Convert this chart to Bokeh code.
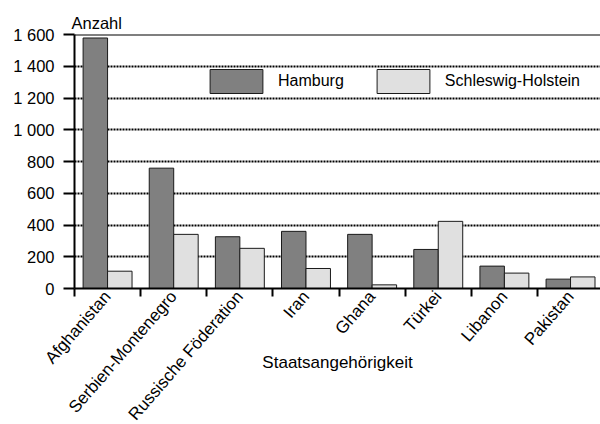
from bokeh.plotting import figure
from bokeh.models import (Range1d, FixedTicker, Span, Legend, LegendItem,
                          ColumnDataSource)
from bokeh.embed import file_html
from bokeh.resources import INLINE
from math import pi

categories = ["Afghanistan", "Serbien-Montenegro", "Russische Föderation", "Iran",
              "Ghana", "Türkei", "Libanon", "Pakistan"]
hamburg = [1578, 758, 326, 360, 341, 246, 141, 59]
schleswig_holstein = [109, 341, 253, 126, 23, 423, 97, 73]
y_ticks = [0, 200, 400, 600, 800, 1000, 1200, 1400, 1600]
y_tick_labels = ["0", "200", "400", "600", "800", "1 000", "1 200", "1 400", "1 600"]

FONT = "Liberation Sans"
FS = "16px"
FSY = "16.5px"
FSX = "17px"

centers = [i + 0.5 for i in range(len(categories))]
bw = 0.37
src_h = ColumnDataSource(dict(x=[c - 0.185 for c in centers], top=hamburg))
src_s = ColumnDataSource(dict(x=[c + 0.185 for c in centers], top=schleswig_holstein))

p = figure(width=600, height=424, output_backend="svg", toolbar_location=None,
           x_range=Range1d(0, 7.953), y_range=Range1d(0, 1600),
           min_border_left=74, min_border_right=0, min_border_top=34,
           min_border_bottom=136)
p.outline_line_color = None
p.background_fill_color = "white"

# title "Anzahl" above the y axis
p.title.text = "Anzahl"
p.title.align = "left"
p.title.offset = -3
p.title.text_font = FONT
p.title.text_font_size = FSY
p.title.text_font_style = "normal"
p.title.text_color = "black"
p.title.standoff = 5

r_h = p.vbar(x="x", top="top", width=bw, bottom=0, source=src_h,
             fill_color="#808080", line_color="#1a1a1a", line_width=1)
r_s = p.vbar(x="x", top="top", width=bw, bottom=0, source=src_s,
             fill_color="#e0e0e0", line_color="#1a1a1a", line_width=1)

# grid
p.xgrid.visible = False
p.ygrid.grid_line_color = "black"
p.ygrid.grid_line_dash = "2 1"
p.ygrid.grid_line_width = 2

# y axis
p.yaxis.ticker = FixedTicker(ticks=y_ticks)
p.yaxis.major_label_overrides = {t: l for t, l in zip(y_ticks, y_tick_labels)}
p.yaxis.axis_line_width = 2
p.yaxis.major_tick_line_width = 2
p.yaxis.major_tick_out = 11
p.yaxis.major_tick_in = 0
p.yaxis.minor_tick_line_color = None
p.yaxis.major_label_standoff = 9
p.yaxis.major_label_text_font = FONT
p.yaxis.major_label_text_font_size = FSY
p.yaxis.major_label_text_color = "black"
p.yaxis.axis_line_color = "black"
p.yaxis.major_tick_line_color = "black"

# x axis
p.xaxis.ticker = FixedTicker(ticks=centers, minor_ticks=list(range(len(categories) + 1)))
p.xaxis.major_label_overrides = {c: n for c, n in zip(centers, categories)}
p.xaxis.major_label_orientation = 49 * pi / 180
p.xaxis.axis_line_width = 2
p.xaxis.axis_line_color = "black"
p.xaxis.major_tick_out = 0
p.xaxis.major_tick_in = 0
p.xaxis.major_tick_line_color = None
p.xaxis.minor_tick_out = 8
p.xaxis.minor_tick_in = 0
p.xaxis.minor_tick_line_width = 2
p.xaxis.minor_tick_line_color = "black"
p.xaxis.major_label_standoff = -3
p.xaxis.major_label_text_font = FONT
p.xaxis.major_label_text_font_size = FSX
p.xaxis.major_label_text_color = "black"
p.xaxis.axis_label = "Staatsangehörigkeit"
p.xaxis.axis_label_text_font = FONT
p.xaxis.axis_label_text_font_size = "17px"
p.xaxis.axis_label_text_font_style = "normal"
p.xaxis.axis_label_text_color = "black"
p.xaxis.axis_label_standoff = -80

# top border
p.add_layout(Span(location=1600, dimension="width", line_color="black", line_width=2))

legend = Legend(items=[LegendItem(label="Hamburg", renderers=[r_h]),
                       LegendItem(label="Schleswig-Holstein", renderers=[r_s])],
                location=(129, 192), orientation="horizontal",
                glyph_width=66, glyph_height=30, label_standoff=9, spacing=26,
                padding=0, margin=0, border_line_color=None,
                background_fill_alpha=0, label_text_font=FONT,
                label_text_font_size=FS, label_text_color="black")
p.add_layout(legend)

open("out.html", "w").write(file_html(p, INLINE))
